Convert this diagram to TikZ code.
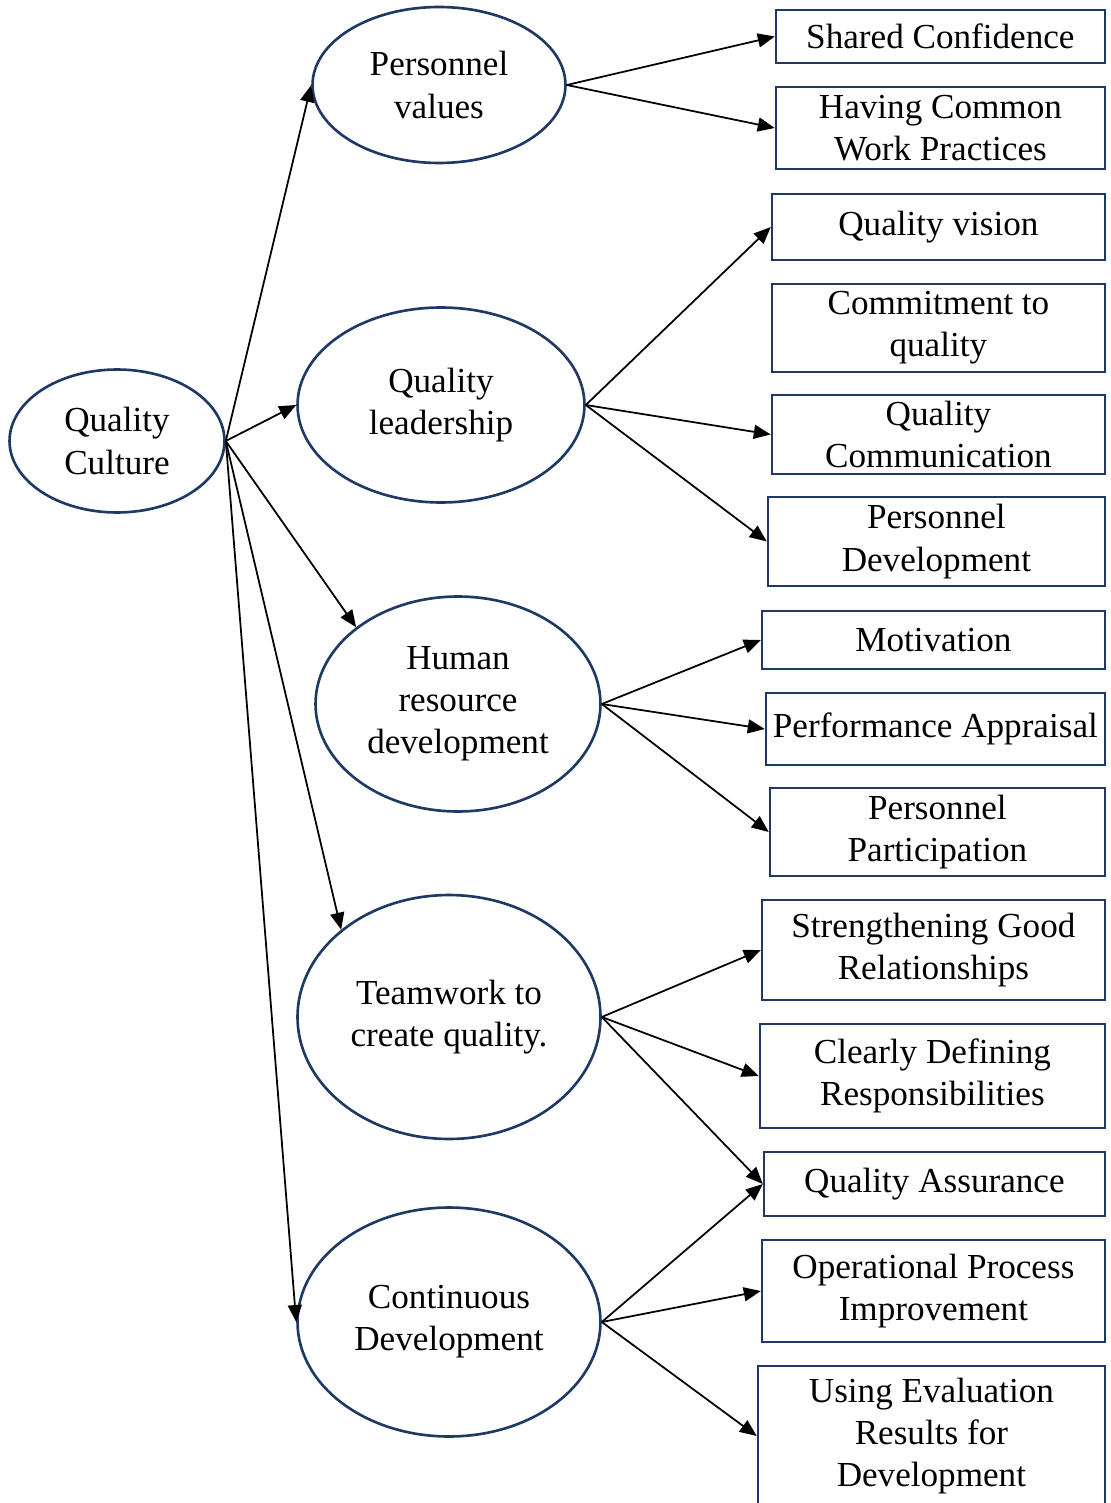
\documentclass[tikz,border=0pt]{standalone}
\usepackage{fontspec}
\setmainfont{Liberation Serif}
\usetikzlibrary{shapes.geometric,arrows.meta}
\definecolor{navy}{HTML}{1F3864}

\begin{document}
\begin{tikzpicture}[
    x=0.02cm, y=-0.02cm,
    oval/.style={ellipse, draw=navy, line width=1.5pt, align=center, inner sep=0pt, font=\fontsize{20}{24}\selectfont},
    item/.style={rectangle, draw=navy, line width=1.3pt, align=center, inner sep=1pt, anchor=east, font=\fontsize{20}{24}\selectfont},
    arrow/.style={-{Triangle[length=0.34cm, width=0.28cm]}, line width=1pt, draw=black}
]
    \useasboundingbox (0,0) rectangle (1110,1503);

    % the culture and its five dimensions
    \node [oval, minimum width=4.30cm, minimum height=2.86cm] (qc) at (117,441) {Quality\\Culture};
    \node [oval, minimum width=5.06cm, minimum height=3.12cm] (pv) at (439,85) {Personnel\\values};
    \node [oval, minimum width=5.74cm, minimum height=3.90cm] (ql) at (441,405) {Quality\\leadership};
    \node [oval, minimum width=5.70cm, minimum height=4.30cm] (hr) at (458,704) {Human\\resource\\development};
    \node [oval, minimum width=6.06cm, minimum height=4.88cm] (tw) at (449,1017) {Teamwork to\\create quality.};
    \node [oval, minimum width=6.06cm, minimum height=4.58cm] (cd) at (449,1322) {Continuous\\Development};

    % indicators, right aligned
    \node [item, minimum width=6.58cm, minimum height=1.06cm] (sc) at (1106,36.5) {Shared Confidence};
    \node [item, minimum width=6.58cm, minimum height=1.64cm] (hc) at (1106,128) {Having Common\\Work Practices};
    \node [item, minimum width=6.66cm, minimum height=1.32cm] (qv) at (1106,227) {Quality vision};
    \node [item, minimum width=6.66cm, minimum height=1.76cm] (cq) at (1106,328) {Commitment to\\quality};
    \node [item, minimum width=6.66cm, minimum height=1.58cm] (qm) at (1106,434.5) {Quality\\Communication};
    \node [item, minimum width=6.74cm, minimum height=1.78cm] (pd) at (1106,541.5) {Personnel\\Development};
    \node [item, minimum width=6.86cm, minimum height=1.16cm] (mo) at (1106,640) {Motivation};
    \node [item, minimum width=6.78cm, minimum height=1.44cm] (pa) at (1106,729) {Performance Appraisal};
    \node [item, minimum width=6.70cm, minimum height=1.76cm] (pp) at (1106,832) {Personnel\\Participation};
    \node [item, minimum width=6.86cm, minimum height=2.00cm] (sg) at (1106,950) {Strengthening Good\\Relationships};
    \node [item, minimum width=6.90cm, minimum height=2.08cm] (dr) at (1106,1076) {Clearly Defining\\Responsibilities};
    \node [item, minimum width=6.82cm, minimum height=1.28cm] (qa) at (1106,1184) {Quality Assurance};
    \node [item, minimum width=6.86cm, minimum height=2.04cm] (op) at (1106,1291) {Operational Process\\Improvement};
    \node [item, minimum width=6.94cm, minimum height=2.80cm] (ue) at (1106,1436) {Using Evaluation\\Results for\\Development};

    % culture to dimensions
    \draw [arrow] (qc.east) -- (pv.west);
    \draw [arrow] (qc.east) -- (ql.west);
    \draw [arrow] (qc.east) -- (hr.143);
    \draw [arrow] (qc.east) -- (tw.141);
    \draw [arrow] (qc.east) -- (cd.west);

    % dimensions to indicators
    \draw [arrow] (pv.east) -- (sc.west);
    \draw [arrow] (pv.east) -- (hc.west);
    \draw [arrow] (ql.east) -- (qv.west);
    \draw [arrow] (ql.east) -- (qm.west);
    \draw [arrow] (ql.east) -- (pd.west);
    \draw [arrow] (hr.east) -- (mo.west);
    \draw [arrow] (hr.east) -- (pa.west);
    \draw [arrow] (hr.east) -- (pp.west);
    \draw [arrow] (tw.east) -- (sg.west);
    \draw [arrow] (tw.east) -- (dr.west);
    \draw [arrow] (tw.east) -- (qa.west);
    \draw [arrow] (cd.east) -- (qa.west);
    \draw [arrow] (cd.east) -- (op.west);
    \draw [arrow] (cd.east) -- (ue.west);
\end{tikzpicture}
\end{document}
